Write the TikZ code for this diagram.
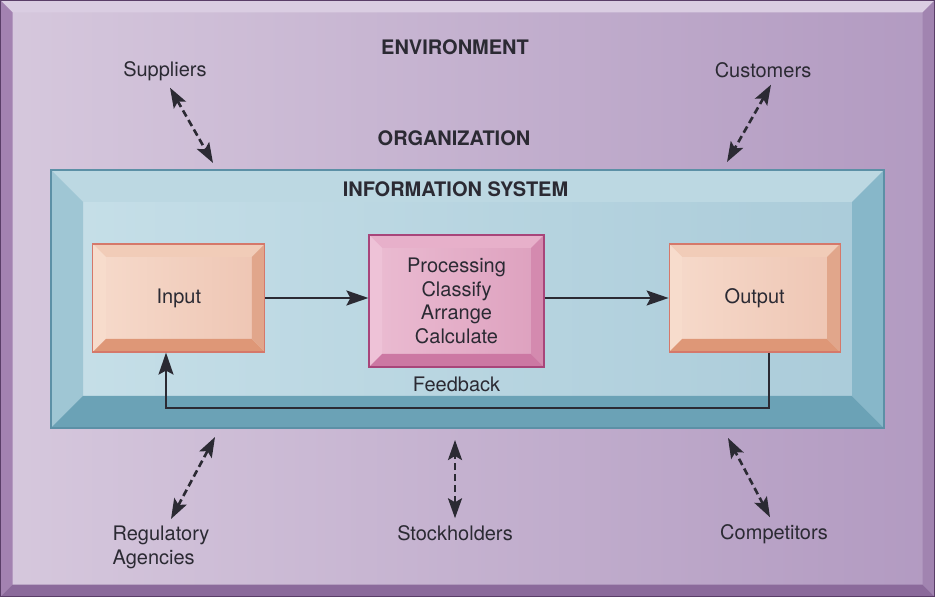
\documentclass[tikz,border=0pt]{standalone}
\usepackage{fontspec}
\setmainfont{TeX Gyre Heros}
\usepackage{tikz}
\usetikzlibrary{arrows.meta,positioning,calc}
\definecolor{ink}{HTML}{2B2A33}
\definecolor{envleft}{HTML}{D6C8DD}
\definecolor{envright}{HTML}{B29AC1}
\definecolor{envline}{HTML}{5A3E68}
\definecolor{ebtop}{HTML}{DACDE2}
\definecolor{ebleft}{HTML}{A382B1}
\definecolor{ebbot}{HTML}{8B6A9B}
\definecolor{ebright}{HTML}{A184B0}
\definecolor{isleft}{HTML}{C6DFE8}
\definecolor{isright}{HTML}{AACBD9}
\definecolor{isline}{HTML}{5C90A6}
\definecolor{istop}{HTML}{BCD8E2}
\definecolor{isside}{HTML}{9FC6D4}
\definecolor{isbot}{HTML}{6BA2B6}
\definecolor{isrside}{HTML}{87B7C9}
\definecolor{salleft}{HTML}{F6DACB}
\definecolor{salright}{HTML}{EEC5B3}
\definecolor{salline}{HTML}{D5786A}
\definecolor{saltop}{HTML}{F1CCB8}
\definecolor{salside}{HTML}{F7DCCC}
\definecolor{salbot}{HTML}{DE9777}
\definecolor{salrside}{HTML}{E1A68B}
\definecolor{pinkleft}{HTML}{EBBCD2}
\definecolor{pinkright}{HTML}{DDA0BE}
\definecolor{pinkline}{HTML}{A8457A}
\definecolor{pinktop}{HTML}{E7B0CA}
\definecolor{pinkside}{HTML}{EEC2D7}
\definecolor{pinkbot}{HTML}{CC78A3}
\definecolor{pinkrside}{HTML}{D48AAF}
\tikzset{
  bevel/.style n args={5}{path picture={
    \path (path picture bounding box.north west) coordinate (pa)
          (path picture bounding box.north east) coordinate (pb)
          (path picture bounding box.south east) coordinate (pc)
          (path picture bounding box.south west) coordinate (pd);
    \fill[#2] (pa) -- (pb) -- ([shift={(-#1,-#1)}]pb) -- ([shift={(#1,-#1)}]pa) -- cycle;
    \fill[#3] (pa) -- ([shift={(#1,-#1)}]pa) -- ([shift={(#1,#1)}]pd) -- (pd) -- cycle;
    \fill[#4] (pd) -- ([shift={(#1,#1)}]pd) -- ([shift={(-#1,#1)}]pc) -- (pc) -- cycle;
    \fill[#5] (pc) -- ([shift={(-#1,#1)}]pc) -- ([shift={(-#1,-#1)}]pb) -- (pb) -- cycle;
  }},
  flow/.style={-{Stealth[length=11pt,width=7.5pt,inset=2pt]},line width=1pt,draw=ink},
  envarr/.style={{Stealth[length=10pt,width=7pt,inset=2pt]}-{Stealth[length=10pt,width=7pt,inset=2pt]},
    line width=1.3pt,draw=ink,dash pattern=on 3.5pt off 2pt},
  lbl/.style={font=\fontsize{10}{11.8}\selectfont,text=ink},
  ttl/.style={lbl,font=\fontsize{10}{12}\selectfont\bfseries},
  box/.style={rectangle,line width=0.6pt,minimum width=86pt,minimum height=54pt,
    inner sep=0pt,lbl,align=center},
}
\begin{document}
\begin{tikzpicture}[x=0.5pt,y=-0.5pt]
\useasboundingbox (0,0) rectangle (935,597);

% environment frame and information system panel
\node[rectangle,draw=envline,line width=0.6pt,inner sep=0pt,minimum width=467pt,minimum height=298pt,
  left color=envleft,right color=envright,bevel={6pt}{ebtop}{ebleft}{ebbot}{ebright}] (env) at (467.5,298.5) {};
\node[rectangle,draw=isline,line width=0.6pt,inner sep=0pt,minimum width=416.5pt,minimum height=129pt,
  left color=isleft,right color=isright,bevel={16pt}{istop}{isside}{isbot}{isrside}] (isys) at (467.5,299) {};

\node[ttl] (envt) at (455,47) {ENVIRONMENT};
\node[ttl] (org) at (454,138) {ORGANIZATION};
\node[ttl,below=2.5pt of isys.north,xshift=-6pt] (ist) {INFORMATION SYSTEM};

% processing chain
\node[box,draw=pinkline,minimum width=87.5pt,minimum height=66pt,left color=pinkleft,right color=pinkright,
  bevel={6.5pt}{pinktop}{pinkside}{pinkbot}{pinkrside}] (proc) at (456.5,301)
  {Processing\\Classify\\Arrange\\Calculate};
\node[box,draw=salline,left color=salleft,right color=salright,
  bevel={6.5pt}{saltop}{salside}{salbot}{salrside},left=51.5pt of proc,yshift=1.5pt] (inp) {Input};
\node[box,draw=salline,minimum width=85.5pt,left color=salleft,right color=salright,
  bevel={6.5pt}{saltop}{salside}{salbot}{salrside},right=62pt of proc,yshift=1.5pt] (out) {Output};

\draw[flow] (inp.east) -- (inp.east -| proc.west);
\draw[flow] (out.west -| proc.east) -- (out.west);
\coordinate (fbk) at (166,408);
\draw[flow] ([xshift=7pt]out.south) |- (fbk) -- (fbk |- inp.south);
\node[lbl,below=1pt of proc] (fbl) {Feedback};

% environment actors
\node[lbl] (sup) at (165,71) {Suppliers};
\node[lbl] (cus) at (763,70) {Customers};
\node[lbl,align=left,anchor=north] (reg) at (161,519) {Regulatory\\Agencies};
\node[lbl] (stk) at (455,533) {Stockholders};
\node[lbl] (cmp) at (774,534) {Competitors};

\coordinate (supend) at (213,163);
\coordinate (cusend) at (727,162);
\coordinate (regend) at (215,437);
\coordinate (stkend) at (455,440);
\coordinate (cmpend) at (728,438);
\draw[envarr] ([xshift=2.5pt]sup.south) -- (supend);
\draw[envarr] ([xshift=4pt]cus.south) -- (cusend);
\draw[envarr] ([xshift=5pt]reg.north) -- (regend);
\draw[envarr] (stk) -- (stkend);
\draw[envarr] ([xshift=-2pt]cmp.north) -- (cmpend);
\end{tikzpicture}
\end{document}
